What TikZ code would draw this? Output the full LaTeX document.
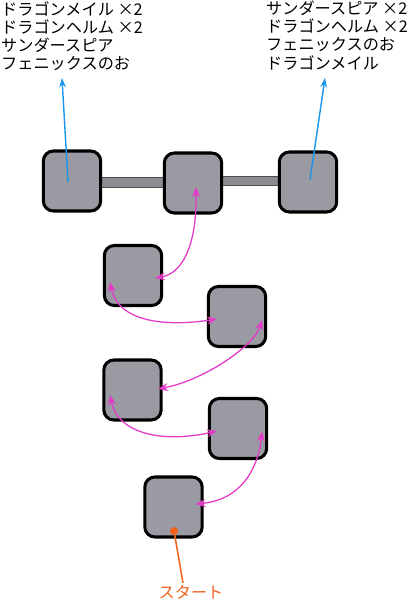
\documentclass[tikz,border=0pt]{standalone}
\usepackage{fontspec}
\setmainfont{Noto Sans CJK JP}
\usepackage{tikz}
\usetikzlibrary{arrows.meta, calc, backgrounds}
\definecolor{RoomGray}{RGB}{154,154,162}
\definecolor{HallGray}{RGB}{140,140,146}
\definecolor{PathPink}{RGB}{228,60,200}
\definecolor{SkyBlue}{RGB}{25,150,235}
\definecolor{StartOrange}{RGB}{242,100,30}

\begin{document}
\begin{tikzpicture}[x=0.03cm, y=-0.03cm,
        room/.style={rectangle, rounded corners=0.3cm, draw=black, line width=2.6pt, fill=RoomGray, minimum width=1.72cm, minimum height=1.8cm, inner sep=0pt},
        hall/.style={draw=black!70, line width=0.9pt, fill=HallGray},
        route/.style={{Stealth[length=0.3cm,width=0.24cm]}-{Stealth[length=0.3cm,width=0.24cm]}, PathPink, line width=1.1pt},
        loot/.style={-{Stealth[length=0.28cm,width=0.2cm]}, SkyBlue, line width=1.2pt},
        itemlist/.style={anchor=north west, align=left, inner sep=0pt, font=\fontsize{13.8pt}{15.4pt}\selectfont}]
                \useasboundingbox (0,0) rectangle (413,601);
                % Salas
                \node[room] (chestL) at (72,181) {};
                \node[room] (hub) at (193,183) {};
                \node[room] (chestR) at (308,182) {};
                \node[room] (room4) at (133,275.5) {};
                \node[room] (room3) at (237,316.5) {};
                \node[room] (room2) at (132.5,390) {};
                \node[room] (room1) at (238,428.5) {};
                \node[room] (start) at (173.5,507) {};

                % Pasillos
                \begin{scope}[on background layer]
                    \filldraw[hall] ($(chestL.center)+(0,-3.5)$) rectangle ($(hub.center)+(0,4.5)$);
                    \filldraw[hall] ($(hub.center)+(0,-6.5)$) rectangle ($(chestR.center)+(0,3.5)$);
                \end{scope}

                % Conexiones
                \draw[route] ($(start)+(22,-3)$) .. controls ($(start)+(66.5,-7)$) and ($(room1)+(20,41.5)$) .. ($(room1)+(24,3)$);
                \draw[route] ($(room1)+(-21,2.5)$) .. controls ($(room1)+(-73,14.5)$) and ($(room2)+(-14.5,45)$) .. ($(room2)+(-22.5,5)$);
                \draw[route] ($(room2)+(25.5,-1)$) .. controls ($(room2)+(72.5,-10)$) and ($(room3)+(18,28.5)$) .. ($(room3)+(25,3.5)$);
                \draw[route] ($(room3)+(-20,2.5)$) .. controls ($(room3)+(-72,10.5)$) and ($(room4)+(-15,46.5)$) .. ($(room4)+(-23,6.5)$);
                \draw[route] ($(room4)+(22,2.5)$) .. controls ($(room4)+(47,-1.5)$) and ($(hub)+(4,67)$) .. ($(hub)+(3,4)$);

                % Etiquetas
                \node[itemlist] (lootL) at (1,1) {ドラゴンメイル ×2\\ドラゴンヘルム ×2\\サンダースピア\\フェニックスのお};
                \node[itemlist] (lootR) at (266,1) {サンダースピア ×2\\ドラゴンヘルム ×2\\フェニックスのお\\ドラゴンメイル};
                \coordinate (tipL) at (62,78);
                \coordinate (tipR) at (325,78);
                \draw[loot] ($(chestL)+(-4,1)$) -- (tipL);
                \draw[loot] ($(chestR)+(2,-2)$) -- (tipR);

                \node[circle, fill=StartOrange, minimum size=0.24cm, inner sep=0pt] (startdot) at ($(start)+(0.5,24)$) {};
                \node[text=StartOrange, inner sep=0pt, font=\fontsize{13.8pt}{15.4pt}\selectfont] (startlbl) at (191,592) {スタート};
                \draw[StartOrange, line width=1.3pt] (startdot) -- ($(startlbl.north)+(-8,-2)$);
\end{tikzpicture}
\end{document}
